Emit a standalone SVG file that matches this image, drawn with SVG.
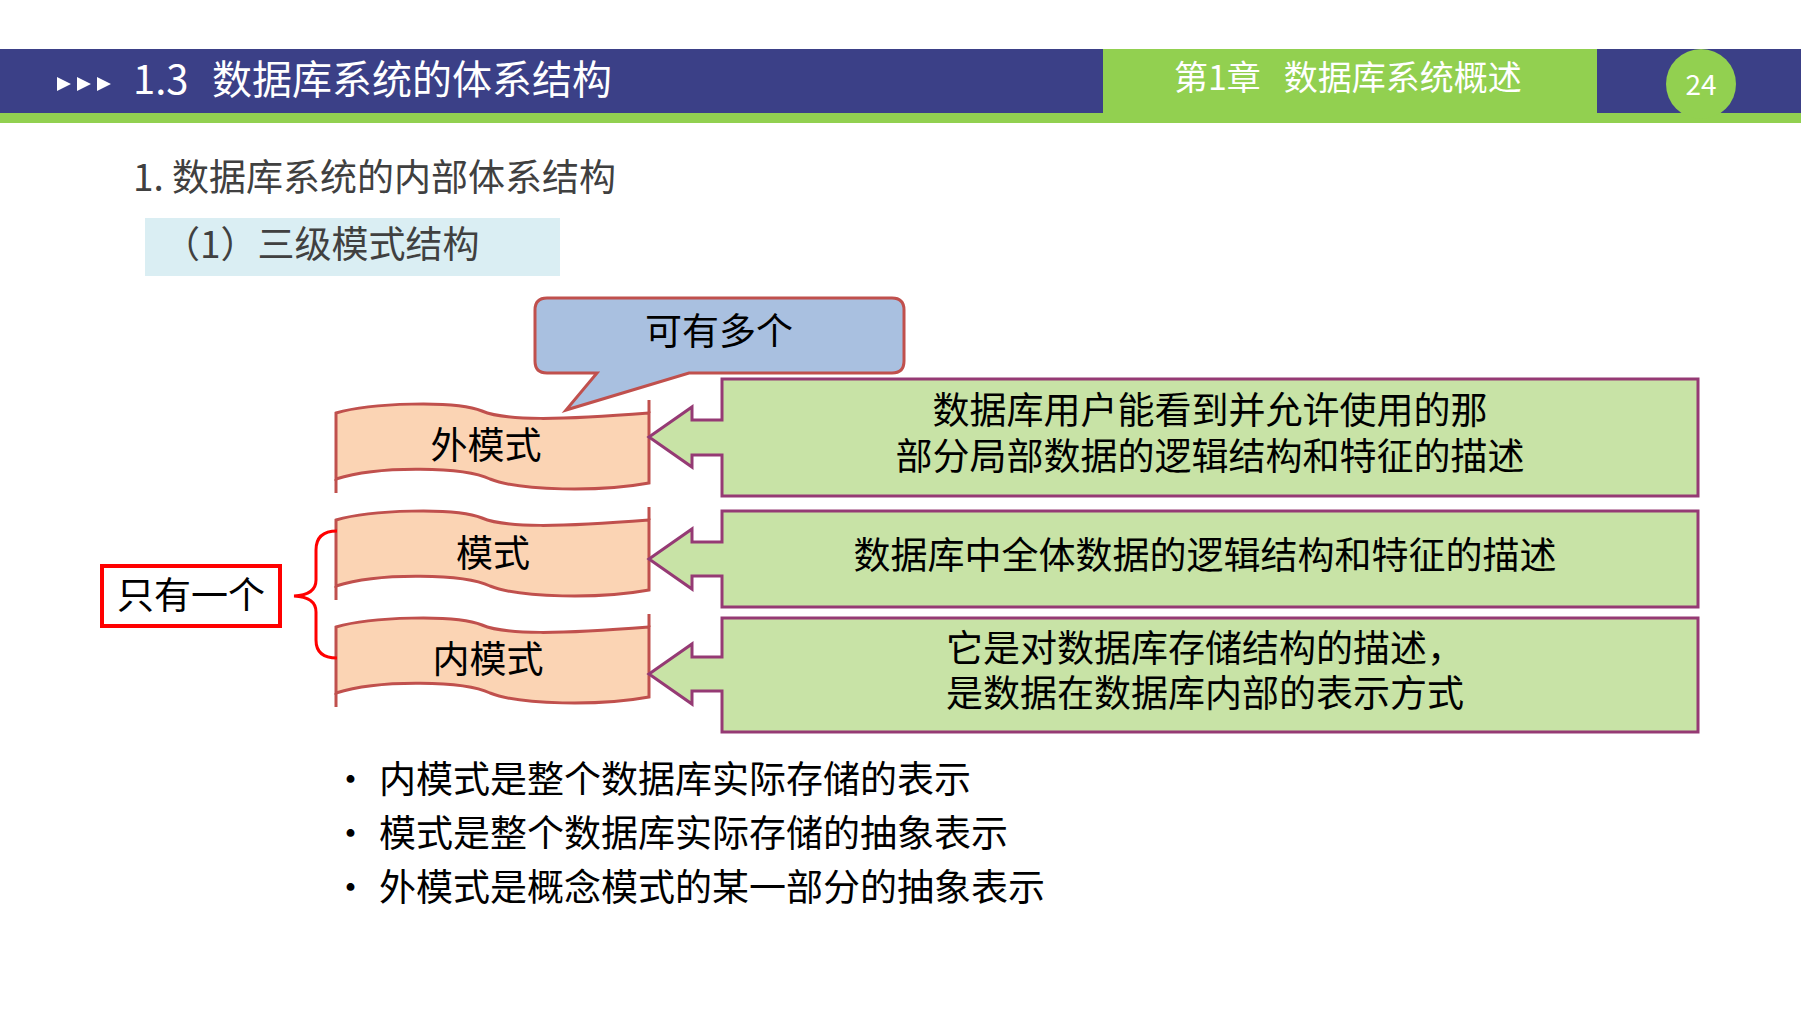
<svg xmlns="http://www.w3.org/2000/svg" width="1801" height="1013" viewBox="0 0 1801 1013">
<style>
text{font-family:"Noto Sans CJK SC","Liberation Sans",sans-serif}
.rib{fill:#fbd4b4;stroke:#c0504d;stroke-width:3}
.ext{fill:none;stroke:#c0504d;stroke-width:3}
.gb{fill:#c8e3a6;stroke:#953a74;stroke-width:3}
.t{font-size:37px;fill:#000;text-anchor:middle}
.b{font-size:37px;fill:#000}
</style>
<rect width="1801" height="1013" fill="#fff"/>
<g id="header">
<rect x="0" y="49" width="1801" height="64" fill="#3b4087"/>
<rect x="0" y="113" width="1801" height="10" fill="#92d050"/>
<rect x="1103" y="49" width="494" height="74" fill="#92d050"/>
<ellipse cx="1701" cy="84" rx="35" ry="35" fill="#92d050"/>
<path d="M57,77 L71,84 L57,91 Z M77,77 L91,84 L77,91 Z M97,77 L111,84 L97,91 Z" fill="#fff"/>
<text x="133" y="94" font-size="40" fill="#fff">1.3</text>
<text x="212" y="94" font-size="40" fill="#fff">数据库系统的体系结构</text>
<text x="1174" y="90" font-size="34" fill="#fff" xml:space="preserve">第1章   数据库系统概述</text>
<text x="1701" y="95" font-size="28" fill="#fff" text-anchor="middle">24</text>
</g>
<g id="headings">
<text x="133" y="191" font-size="37" fill="#404040">1. 数据库系统的内部体系结构</text>
<rect x="145" y="218" width="415" height="58" fill="#daeef3"/>
<text x="163" y="258" font-size="37" fill="#404040">（1）三级模式结构</text>
</g>
<g id="callout">
<path d="M547,298 H892 Q904,298 904,310 V361 Q904,373 892,373 H689 L566,410 L597,373 H547 Q535,373 535,361 V310 Q535,298 547,298 Z" fill="#a9c0e0" stroke="#c0504d" stroke-width="3"/>
<text class="t" x="719" y="345">可有多个</text>
</g>
<g id="ribbon1" transform="translate(0,403)">
<path class="rib" d="M336,10 C370,0 455,-3 482,8 C505,18 560,17 649,10 V80 C600,89 520,88 490,76 C465,64 380,62 336,76 Z"/>
<path class="ext" d="M649,10 V-3 M336,76 V90"/>
<text class="t" x="486" y="56">外模式</text>
</g>
<g id="ribbon2" transform="translate(0,510)">
<path class="rib" d="M336,10 C370,0 455,-3 482,8 C505,18 560,17 649,10 V80 C600,89 520,88 490,76 C465,64 380,62 336,76 Z"/>
<path class="ext" d="M649,10 V-3 M336,76 V90"/>
<text class="t" x="493" y="57">模式</text>
</g>
<g id="ribbon3" transform="translate(0,617)">
<path class="rib" d="M336,10 C370,0 455,-3 482,8 C505,18 560,17 649,10 V80 C600,89 520,88 490,76 C465,64 380,62 336,76 Z"/>
<path class="ext" d="M649,10 V-3 M336,76 V90"/>
<text class="t" x="488" y="56">内模式</text>
</g>
<g id="box1">
<path class="gb" d="M722,379 H1698 V496 H722 V455 H692 V467 L649,437 L692,407 V420 H722 Z"/>
<text class="t" x="1210" y="424">数据库用户能看到并允许使用的那</text>
<text class="t" x="1210" y="470">部分局部数据的逻辑结构和特征的描述</text>
</g>
<g id="box2">
<path class="gb" d="M722,511 H1698 V607 H722 V576 H692 V589 L649,559 L692,529 V542 H722 Z"/>
<text class="t" x="1205" y="569">数据库中全体数据的逻辑结构和特征的描述</text>
</g>
<g id="box3">
<path class="gb" d="M722,618 H1698 V732 H722 V691 H692 V704 L649,674 L692,644 V657 H722 Z"/>
<text class="t" x="1205" y="662">它是对数据库存储结构的描述，</text>
<text class="t" x="1205" y="707">是数据在数据库内部的表示方式</text>
</g>
<g id="only-one">
<rect x="102" y="566" width="178" height="60" fill="#fff" stroke="#ff0000" stroke-width="4"/>
<text class="t" x="191" y="609">只有一个</text>
</g>
<g id="connectors">
<path d="M337,531 Q316,531 316,550 V580 Q316,595 294,596 Q316,597 316,612 V640 Q316,658 337,658" fill="none" stroke="#ff0000" stroke-width="3"/>
</g>
<g id="bullets">
<text class="b" x="332" y="793">•</text><text class="b" x="379" y="793">内模式是整个数据库实际存储的表示</text>
<text class="b" x="332" y="847">•</text><text class="b" x="379" y="847">模式是整个数据库实际存储的抽象表示</text>
<text class="b" x="332" y="901">•</text><text class="b" x="379" y="901">外模式是概念模式的某一部分的抽象表示</text>
</g>
</svg>
